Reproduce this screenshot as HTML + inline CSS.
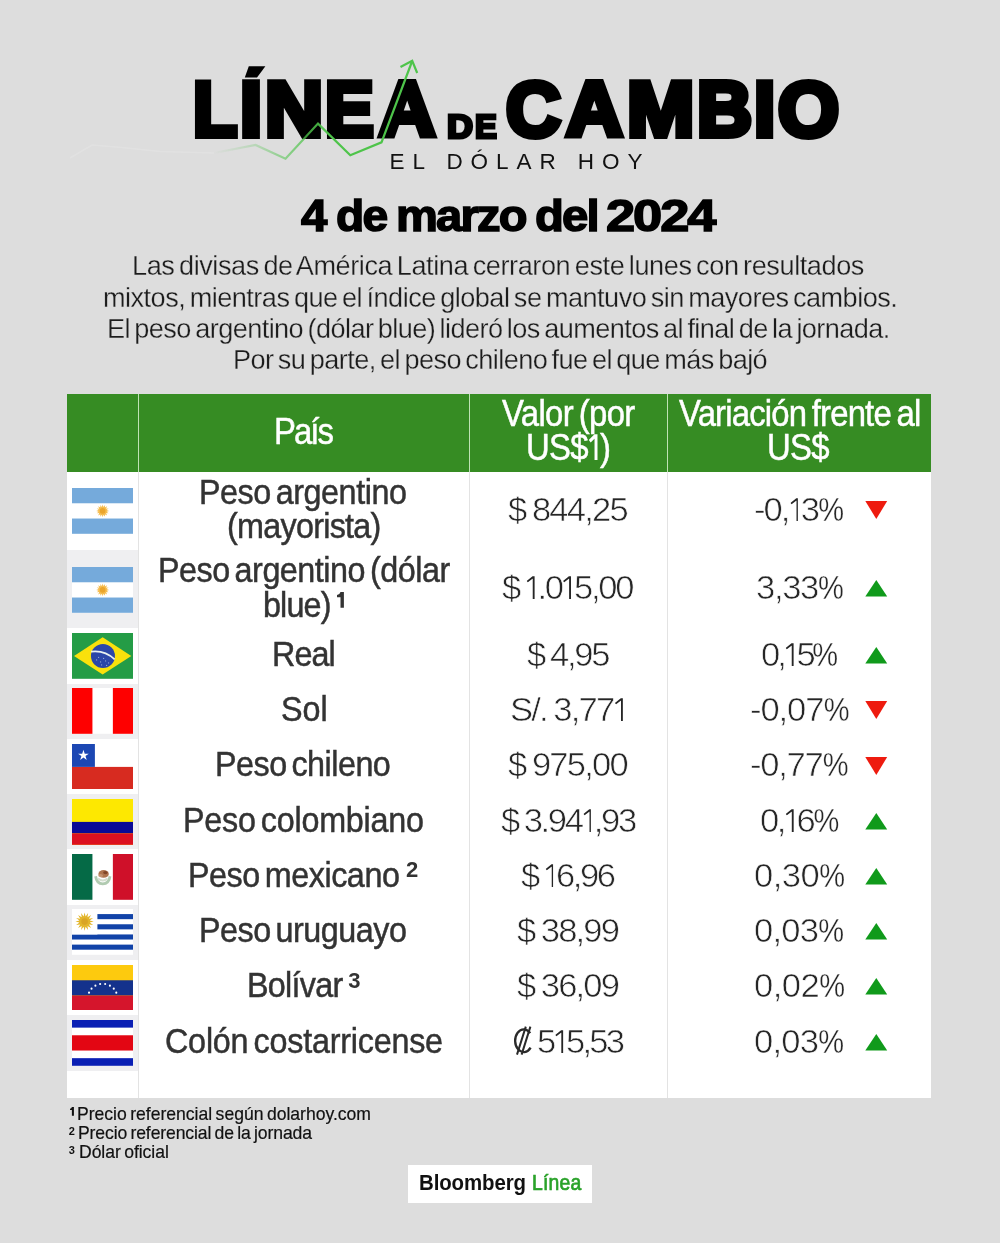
<!DOCTYPE html>
<html lang="es">
<head>
<meta charset="utf-8">
<title>Línea de cambio - El dólar hoy</title>
<style>
*{margin:0;padding:0;box-sizing:border-box;}
html,body{width:1000px;height:1243px;overflow:hidden;}
body{will-change:transform;background:#dddddd;font-family:"Liberation Sans",sans-serif;position:relative;color:#333;}
.abs{position:absolute;white-space:nowrap;}
/* ---------- title ---------- */
.t-big{font-weight:bold;font-size:77.5px;line-height:77.5px;color:#000;-webkit-text-stroke:6.2px #000;transform-origin:0 0;}
.t-de{font-weight:bold;font-size:33px;line-height:33px;color:#000;-webkit-text-stroke:3px #000;transform-origin:0 0;}
.t-sub{font-size:22.5px;line-height:24px;color:#111;letter-spacing:7.95px;}
.date{font-weight:bold;font-size:44px;line-height:44px;color:#000;letter-spacing:-1.72px;-webkit-text-stroke:1.5px #000;transform-origin:0 0;}
.para{font-size:27.5px;line-height:32px;color:#1c1c1c;white-space:nowrap;word-spacing:-2.6px;transform:scaleX(0.985);transform-origin:0 0;-webkit-text-stroke:0.3px #ddd;}
/* ---------- table ---------- */
.tbl{position:absolute;left:67px;top:394px;width:864px;height:704px;background:#fff;}
.hd{position:absolute;left:0;top:0;width:864px;height:78px;background:#368c23;}
.vl{position:absolute;top:0;width:1px;height:704px;background:#e3e3e3;}
.vlh{position:absolute;top:0;width:1px;height:78px;background:#bfe3b4;}
.fbg{position:absolute;left:0;width:71px;background:#efeff1;}
.nm{font-size:35.5px;line-height:36px;color:#333;transform-origin:0 0;-webkit-text-stroke:0.5px #333;}
.val{font-size:32.3px;line-height:32px;color:#262626;-webkit-text-stroke:0.6px #fff;transform-origin:0 0;}
.hc{font-size:36.5px;line-height:37px;color:#fff;transform-origin:0 0;-webkit-text-stroke:0.5px #fff;}
.sup{font-size:22px;line-height:22px;font-weight:bold;color:#333;}
.fn{font-size:18.5px;line-height:20px;color:#111;word-spacing:-1.5px;transform:scaleX(0.95);transform-origin:0 0;-webkit-text-stroke:0.2px #111;}
.fs{font-size:11px;line-height:12px;font-weight:bold;color:#111;}
.logo{position:absolute;left:408px;top:1164.6px;width:183.6px;height:38.4px;background:#fff;}
.lg{font-size:21.5px;line-height:24px;font-weight:bold;transform-origin:0 0;}
</style>
</head>
<body>

<!-- TITLE -->
<div class="abs t-big" style="left:193.1px;top:71.3px;transform:scaleX(0.935);">L</div>
<div class="abs t-big" style="left:240.4px;top:71.3px;transform:scaleX(1.024);">I</div>
<div class="abs t-big" style="left:264.5px;top:71.3px;transform:scaleX(1.038);">N</div>
<div class="abs t-big" style="left:325.3px;top:71.3px;transform:scaleX(0.942);">E</div>
<div class="abs t-big" style="left:379.0px;top:71.3px;transform:scaleX(1.007);">A</div>
<div class="abs t-big" style="left:506.0px;top:71.3px;transform:scaleX(0.979);">C</div>
<div class="abs t-big" style="left:566.0px;top:71.3px;transform:scaleX(1.012);">A</div>
<div class="abs t-big" style="left:627.3px;top:71.3px;transform:scaleX(1.043);">M</div>
<div class="abs t-big" style="left:697.3px;top:71.3px;transform:scaleX(0.983);">B</div>
<div class="abs t-big" style="left:754.4px;top:71.3px;transform:scaleX(0.988);">I</div>
<div class="abs t-big" style="left:777.7px;top:71.3px;transform:scaleX(1.013);">O</div>
<svg class="abs" style="left:240px;top:60px;" width="30" height="22" viewBox="240 60 30 22"><polygon points="244.8,77.4 248.8,66.2 265.4,66.2 257,77.4" fill="#000"/></svg>
<div class="abs t-de" style="left:447.3px;top:110px;transform:scaleX(1.091);">D</div>
<div class="abs t-de" style="left:475.0px;top:110px;transform:scaleX(0.990);">E</div>
<svg class="abs" style="left:0;top:0;" width="1000" height="200" viewBox="0 0 1000 200">
  <defs>
    <linearGradient id="lg" gradientUnits="userSpaceOnUse" x1="214" y1="0" x2="330" y2="0">
      <stop offset="0" stop-color="#4ec44a" stop-opacity="0"/>
      <stop offset="0.35" stop-color="#4ec44a" stop-opacity="0.25"/>
      <stop offset="1" stop-color="#4ec44a" stop-opacity="1"/>
    </linearGradient>
  </defs>
  <polyline points="70,158 92,145 122,147.5 160,151.5 214,153" fill="none" stroke="#fff" stroke-opacity="0.14" stroke-width="1.5"/>
  <polyline points="214,153 255.5,145 285.5,158.7 318,123.6 350.3,155.3 381.5,142.3 412,61.5" fill="none" stroke="url(#lg)" stroke-width="2.2" stroke-linejoin="miter"/>
  <polyline points="400.5,67 412.2,60.8 417.2,73" fill="none" stroke="#4ec44a" stroke-width="2.2" stroke-linejoin="miter"/>
</svg>
<div class="abs t-sub" style="left:389.6px;top:150px;">EL DÓLAR HOY</div>

<div class="abs date" style="left:300.9px;top:194.1px;transform:scaleX(1.076);">4</div>
<div class="abs date" style="left:335.8px;top:194.1px;transform:scaleX(1.050);">de</div>
<div class="abs date" style="left:395.6px;top:194.1px;transform:scaleX(1.071);">marzo</div>
<div class="abs date" style="left:535.2px;top:194.1px;transform:scaleX(1.074);">del</div>
<div class="abs date" style="left:606.1px;top:194.1px;transform:scaleX(1.191);">2024</div>

<div class="abs para" style="left:131.9px;top:250.2px;letter-spacing:-0.420px;">Las divisas de América Latina cerraron este lunes con resultados</div>
<div class="abs para" style="left:102.9px;top:281.6px;letter-spacing:-0.519px;">mixtos, mientras que el índice global se mantuvo sin mayores cambios.</div>
<div class="abs para" style="left:106.6px;top:312.8px;letter-spacing:-0.573px;">El peso argentino (dólar blue) lideró los aumentos al final de la jornada.</div>
<div class="abs para" style="left:233.0px;top:344.1px;letter-spacing:-0.571px;">Por su parte, el peso chileno fue el que más bajó</div>

<!-- TABLE -->
<div class="tbl">
  <div class="fbg" style="top:156px;height:78.2px;"></div>
  <div class="fbg" style="top:289.6px;height:55.3px;"></div>
  <div class="fbg" style="top:400.2px;height:55.3px;"></div>
  <div class="fbg" style="top:510.8px;height:55.3px;"></div>
  <div class="fbg" style="top:621.4px;height:55.3px;"></div>
  <div class="vl" style="left:71px;"></div>
  <div class="vl" style="left:402px;"></div>
  <div class="vl" style="left:600px;"></div>
  <div class="hd"></div>
  <div class="vlh" style="left:71px;"></div>
  <div class="vlh" style="left:402px;"></div>
  <div class="vlh" style="left:600px;"></div>
</div>
<svg class="abs" style="left:72.1px;top:487.9px;" width="61.3" height="45.8" viewBox="0 0 61.3 45.8"><rect width="61.3" height="45.8" fill="#fff"/><rect width="61.3" height="15.27" fill="#75aadb"/><rect y="30.53" width="61.3" height="15.27" fill="#75aadb"/><polygon points="37.05,22.90 34.57,23.68 36.56,25.35 33.98,25.12 35.18,27.43 32.87,26.23 33.10,28.81 31.43,26.82 30.65,29.30 29.87,26.82 28.20,28.81 28.43,26.23 26.12,27.43 27.32,25.12 24.74,25.35 26.73,23.68 24.25,22.90 26.73,22.12 24.74,20.45 27.32,20.68 26.12,18.37 28.43,19.57 28.20,16.99 29.87,18.98 30.65,16.50 31.43,18.98 33.10,16.99 32.87,19.57 35.18,18.37 33.98,20.68 36.56,20.45 34.57,22.12" fill="#f6bd4f"/><circle cx="30.65" cy="22.9" r="4.0" fill="#f6bd4f"/><circle cx="30.65" cy="22.9" r="2.8" fill="#eaa52c"/></svg>
<svg class="abs" style="left:72.1px;top:567.0px;" width="61.3" height="45.8" viewBox="0 0 61.3 45.8"><rect width="61.3" height="45.8" fill="#fff"/><rect width="61.3" height="15.27" fill="#75aadb"/><rect y="30.53" width="61.3" height="15.27" fill="#75aadb"/><polygon points="37.05,22.90 34.57,23.68 36.56,25.35 33.98,25.12 35.18,27.43 32.87,26.23 33.10,28.81 31.43,26.82 30.65,29.30 29.87,26.82 28.20,28.81 28.43,26.23 26.12,27.43 27.32,25.12 24.74,25.35 26.73,23.68 24.25,22.90 26.73,22.12 24.74,20.45 27.32,20.68 26.12,18.37 28.43,19.57 28.20,16.99 29.87,18.98 30.65,16.50 31.43,18.98 33.10,16.99 32.87,19.57 35.18,18.37 33.98,20.68 36.56,20.45 34.57,22.12" fill="#f6bd4f"/><circle cx="30.65" cy="22.9" r="4.0" fill="#f6bd4f"/><circle cx="30.65" cy="22.9" r="2.8" fill="#eaa52c"/></svg>
<svg class="abs" style="left:72.1px;top:632.9px;" width="61.3" height="45.8" viewBox="0 0 61.3 45.8"><rect width="61.3" height="45.8" fill="#249c46"/><polygon points="2,22.9 30.65,4.2 59.3,22.9 30.65,41.599999999999994" fill="#f9e10c"/><circle cx="30.95" cy="22.9" r="12" fill="#2b46a8"/><path d="M19.049999999999997,18.7 Q32.65,16.9 42.65,26.4" fill="none" stroke="#e8f0f0" stroke-width="1.8"/><circle cx="24.65" cy="26.9" r="0.55" fill="#9fb3e0"/><circle cx="28.65" cy="28.9" r="0.55" fill="#9fb3e0"/><circle cx="33.65" cy="27.9" r="0.55" fill="#9fb3e0"/><circle cx="26.65" cy="24.4" r="0.55" fill="#9fb3e0"/><circle cx="31.65" cy="25.4" r="0.55" fill="#9fb3e0"/><circle cx="36.65" cy="29.9" r="0.55" fill="#9fb3e0"/><circle cx="29.65" cy="31.9" r="0.55" fill="#9fb3e0"/><circle cx="34.65" cy="32.4" r="0.55" fill="#9fb3e0"/></svg>
<svg class="abs" style="left:72.1px;top:688.2px;" width="61.3" height="45.8" viewBox="0 0 61.3 45.8"><rect width="61.3" height="45.8" fill="#fff"/><rect width="20.43" height="45.8" fill="#fe0000"/><rect x="40.87" width="20.43" height="45.8" fill="#fe0000"/></svg>
<svg class="abs" style="left:72.1px;top:743.5px;" width="61.3" height="45.8" viewBox="0 0 61.3 45.8"><rect width="61.3" height="45.8" fill="#fff"/><rect y="22.9" width="61.3" height="22.9" fill="#d72b20"/><rect width="22.9" height="22.9" fill="#1c47b3"/><polygon points="11.45,5.85 12.71,9.72 16.78,9.72 13.48,12.11 14.74,15.98 11.45,13.59 8.16,15.98 9.42,12.11 6.12,9.72 10.19,9.72" fill="#fff"/></svg>
<svg class="abs" style="left:72.1px;top:798.8px;" width="61.3" height="45.8" viewBox="0 0 61.3 45.8"><rect width="61.3" height="45.8" fill="#fde801"/><rect y="22.9" width="61.3" height="11.45" fill="#0a0a96"/><rect y="34.349999999999994" width="61.3" height="11.45" fill="#dc1020"/></svg>
<svg class="abs" style="left:72.1px;top:854.1px;" width="61.3" height="45.8" viewBox="0 0 61.3 45.8"><rect width="61.3" height="45.8" fill="#fff"/><rect width="20.43" height="45.8" fill="#056a46"/><rect x="40.87" width="20.43" height="45.8" fill="#cf1029"/><path d="M23.6,22.2 Q24.6,29.6 30.8,29.8 Q37,29.6 38,22.2" fill="none" stroke="#a8c5a8" stroke-width="2.8" opacity="0.9"/><path d="M26,24.5 Q30.8,28.4 35.6,24.5" fill="none" stroke="#c9d6c4" stroke-width="2" opacity="0.8"/><ellipse cx="31.6" cy="19.9" rx="5.2" ry="3.9" fill="#a7683f" opacity="0.92"/><ellipse cx="33.4" cy="18.6" rx="2.2" ry="1.6" fill="#7d4123" opacity="0.9"/><ellipse cx="28.6" cy="21.6" rx="2.4" ry="1.6" fill="#c79a78" opacity="0.8"/></svg>
<svg class="abs" style="left:72.1px;top:909.4px;" width="61.3" height="45.8" viewBox="0 0 61.3 45.8"><rect width="61.3" height="45.8" fill="#fff"/><rect y="5.09" width="61.3" height="5.09" fill="#1143a8"/><rect y="15.27" width="61.3" height="5.09" fill="#1143a8"/><rect y="25.44" width="61.3" height="5.09" fill="#1143a8"/><rect y="35.62" width="61.3" height="5.09" fill="#1143a8"/><rect width="25.4" height="25.44" fill="#fff"/><polygon points="21.80,12.60 17.70,13.61 21.10,16.12 16.92,15.49 19.11,19.11 15.49,16.92 16.12,21.10 13.61,17.70 12.60,21.80 11.59,17.70 9.08,21.10 9.71,16.92 6.09,19.11 8.28,15.49 4.10,16.12 7.50,13.61 3.40,12.60 7.50,11.59 4.10,9.08 8.28,9.71 6.09,6.09 9.71,8.28 9.08,4.10 11.59,7.50 12.60,3.40 13.61,7.50 16.12,4.10 15.49,8.28 19.11,6.09 16.92,9.71 21.10,9.08 17.70,11.59" fill="#e3b62b"/><circle cx="12.6" cy="12.6" r="5.2" fill="#e3b62b"/><circle cx="12.6" cy="12.6" r="3.3" fill="#d9a524"/></svg>
<svg class="abs" style="left:72.1px;top:964.7px;" width="61.3" height="45.8" viewBox="0 0 61.3 45.8"><rect width="61.3" height="45.8" fill="#fdca0e"/><rect y="15.27" width="61.3" height="15.27" fill="#14328c"/><rect y="30.53" width="61.3" height="15.27" fill="#d5152c"/><circle cx="17.02" cy="27.64" r="1.05" fill="#fff"/><circle cx="19.54" cy="23.63" r="1.05" fill="#fff"/><circle cx="23.40" cy="20.65" r="1.05" fill="#fff"/><circle cx="28.13" cy="19.06" r="1.05" fill="#fff"/><circle cx="33.17" cy="19.06" r="1.05" fill="#fff"/><circle cx="37.90" cy="20.65" r="1.05" fill="#fff"/><circle cx="41.76" cy="23.63" r="1.05" fill="#fff"/><circle cx="44.28" cy="27.64" r="1.05" fill="#fff"/></svg>
<svg class="abs" style="left:72.1px;top:1020.0px;" width="61.3" height="45.8" viewBox="0 0 61.3 45.8"><rect width="61.3" height="45.8" fill="#fff"/><rect width="61.3" height="7.63" fill="#0a1fb4"/><rect y="15.27" width="61.3" height="15.27" fill="#e30613"/><rect y="38.17" width="61.3" height="7.63" fill="#0a1fb4"/></svg>
<div class="abs nm" style="left:199.3px;top:474.1px;letter-spacing:-0.49px;word-spacing:-4px;transform:scaleX(0.91);">Peso argentino</div>
<div class="abs nm" style="left:227.1px;top:508.3px;letter-spacing:-0.79px;word-spacing:-4px;transform:scaleX(0.91);">(mayorista)</div>
<div class="abs nm" style="left:157.5px;top:551.5px;letter-spacing:-0.52px;word-spacing:-4px;transform:scaleX(0.91);">Peso argentino (dólar</div>
<div class="abs nm" style="left:262.9px;top:586.7px;letter-spacing:-0.93px;word-spacing:-4px;transform:scaleX(0.91);">blue)</div>
<div class="abs nm" style="left:271.6px;top:635.6px;letter-spacing:-0.97px;word-spacing:-4px;transform:scaleX(0.91);">Real</div>
<div class="abs nm" style="left:280.6px;top:691.0px;letter-spacing:-0.03px;word-spacing:-4px;transform:scaleX(0.91);">Sol</div>
<div class="abs nm" style="left:215.3px;top:746.2px;letter-spacing:-0.55px;word-spacing:-4px;transform:scaleX(0.91);">Peso chileno</div>
<div class="abs nm" style="left:182.7px;top:801.5px;letter-spacing:-0.25px;word-spacing:-4px;transform:scaleX(0.91);">Peso colombiano</div>
<div class="abs nm" style="left:188.2px;top:856.8px;letter-spacing:-0.49px;word-spacing:-4px;transform:scaleX(0.91);">Peso mexicano</div>
<div class="abs nm" style="left:199.3px;top:912.0px;letter-spacing:-0.53px;word-spacing:-4px;transform:scaleX(0.91);">Peso uruguayo</div>
<div class="abs nm" style="left:247.3px;top:967.3px;letter-spacing:-0.79px;word-spacing:-4px;transform:scaleX(0.91);">Bolívar</div>
<div class="abs nm" style="left:164.8px;top:1022.6px;letter-spacing:-0.23px;word-spacing:-4px;transform:scaleX(0.91);">Colón costarricense</div>
<div class="abs val" style="left:508.1px;top:493.7px;letter-spacing:-1.68px;word-spacing:-1.2px;transform:scaleX(1.07);">$ 844,25</div>
<div class="abs val" style="left:502.2px;top:571.9px;letter-spacing:-2.12px;word-spacing:-1.2px;transform:scaleX(1.07);">$ <svg style="margin:0 2.4px 0 1.6px" width="7.6" height="23" viewBox="0 0 7.6 23"><path d="M0.6,5.6 L6.1,1 M6.6,0.2 L6.6,23" fill="none" stroke="#262626" stroke-width="1.75"/></svg>.0<svg style="margin:0 2.4px 0 1.6px" width="7.6" height="23" viewBox="0 0 7.6 23"><path d="M0.6,5.6 L6.1,1 M6.6,0.2 L6.6,23" fill="none" stroke="#262626" stroke-width="1.75"/></svg>5,00</div>
<div class="abs val" style="left:526.5px;top:638.7px;letter-spacing:-2.12px;word-spacing:-1.2px;transform:scaleX(1.07);">$ 4,95</div>
<div class="abs val" style="left:510.0px;top:694.1px;letter-spacing:-1.69px;word-spacing:-1.2px;transform:scaleX(1.07);">S/. 3,77<svg style="margin:0 2.4px 0 1.6px" width="7.6" height="23" viewBox="0 0 7.6 23"><path d="M0.6,5.6 L6.1,1 M6.6,0.2 L6.6,23" fill="none" stroke="#262626" stroke-width="1.75"/></svg></div>
<div class="abs val" style="left:508.1px;top:749.3px;letter-spacing:-1.68px;word-spacing:-1.2px;transform:scaleX(1.07);">$ 975,00</div>
<div class="abs val" style="left:500.6px;top:804.6px;letter-spacing:-2.23px;word-spacing:-1.2px;transform:scaleX(1.07);">$ 3.94<svg style="margin:0 2.4px 0 1.6px" width="7.6" height="23" viewBox="0 0 7.6 23"><path d="M0.6,5.6 L6.1,1 M6.6,0.2 L6.6,23" fill="none" stroke="#262626" stroke-width="1.75"/></svg>,93</div>
<div class="abs val" style="left:521.0px;top:859.9px;letter-spacing:-2.27px;word-spacing:-1.2px;transform:scaleX(1.07);">$ <svg style="margin:0 2.4px 0 1.6px" width="7.6" height="23" viewBox="0 0 7.6 23"><path d="M0.6,5.6 L6.1,1 M6.6,0.2 L6.6,23" fill="none" stroke="#262626" stroke-width="1.75"/></svg>6,96</div>
<div class="abs val" style="left:517.0px;top:915.1px;letter-spacing:-1.72px;word-spacing:-1.2px;transform:scaleX(1.07);">$ 38,99</div>
<div class="abs val" style="left:517.0px;top:970.4px;letter-spacing:-1.74px;word-spacing:-1.2px;transform:scaleX(1.07);">$ 36,09</div>
<div class="abs val" style="left:537.1px;top:1025.7px;letter-spacing:-2.52px;word-spacing:-1.2px;transform:scaleX(1.07);">5<svg style="margin:0 2.4px 0 1.6px" width="7.6" height="23" viewBox="0 0 7.6 23"><path d="M0.6,5.6 L6.1,1 M6.6,0.2 L6.6,23" fill="none" stroke="#262626" stroke-width="1.75"/></svg>5,53</div>
<div class="abs val" style="left:754.4px;top:493.7px;letter-spacing:-1.85px;word-spacing:-1.2px;transform:scaleX(1.07);">-0,<svg style="margin:0 2.4px 0 1.6px" width="7.6" height="23" viewBox="0 0 7.6 23"><path d="M0.6,5.6 L6.1,1 M6.6,0.2 L6.6,23" fill="none" stroke="#262626" stroke-width="1.75"/></svg>3<span style="display:inline-block;transform:scaleX(.84);transform-origin:0 50%;margin-right:-4.6px;-webkit-text-stroke:0.35px #fff">%</span></div>
<div class="abs val" style="left:755.5px;top:571.9px;letter-spacing:-1.25px;word-spacing:-1.2px;transform:scaleX(1.07);">3,33<span style="display:inline-block;transform:scaleX(.84);transform-origin:0 50%;margin-right:-4.6px;-webkit-text-stroke:0.35px #fff">%</span></div>
<div class="abs val" style="left:760.6px;top:638.7px;letter-spacing:-2.72px;word-spacing:-1.2px;transform:scaleX(1.07);">0,<svg style="margin:0 2.4px 0 1.6px" width="7.6" height="23" viewBox="0 0 7.6 23"><path d="M0.6,5.6 L6.1,1 M6.6,0.2 L6.6,23" fill="none" stroke="#262626" stroke-width="1.75"/></svg>5<span style="display:inline-block;transform:scaleX(.84);transform-origin:0 50%;margin-right:-4.6px;-webkit-text-stroke:0.35px #fff">%</span></div>
<div class="abs val" style="left:749.5px;top:694.1px;letter-spacing:-1.00px;word-spacing:-1.2px;transform:scaleX(1.07);">-0,07<span style="display:inline-block;transform:scaleX(.84);transform-origin:0 50%;margin-right:-4.6px;-webkit-text-stroke:0.35px #fff">%</span></div>
<div class="abs val" style="left:750.4px;top:749.3px;letter-spacing:-1.17px;word-spacing:-1.2px;transform:scaleX(1.07);">-0,77<span style="display:inline-block;transform:scaleX(.84);transform-origin:0 50%;margin-right:-4.6px;-webkit-text-stroke:0.35px #fff">%</span></div>
<div class="abs val" style="left:759.9px;top:804.6px;letter-spacing:-2.22px;word-spacing:-1.2px;transform:scaleX(1.07);">0,<svg style="margin:0 2.4px 0 1.6px" width="7.6" height="23" viewBox="0 0 7.6 23"><path d="M0.6,5.6 L6.1,1 M6.6,0.2 L6.6,23" fill="none" stroke="#262626" stroke-width="1.75"/></svg>6<span style="display:inline-block;transform:scaleX(.84);transform-origin:0 50%;margin-right:-4.6px;-webkit-text-stroke:0.35px #fff">%</span></div>
<div class="abs val" style="left:753.9px;top:859.9px;letter-spacing:-0.48px;word-spacing:-1.2px;transform:scaleX(1.07);">0,30<span style="display:inline-block;transform:scaleX(.84);transform-origin:0 50%;margin-right:-4.6px;-webkit-text-stroke:0.35px #fff">%</span></div>
<div class="abs val" style="left:754.4px;top:915.1px;letter-spacing:-0.69px;word-spacing:-1.2px;transform:scaleX(1.07);">0,03<span style="display:inline-block;transform:scaleX(.84);transform-origin:0 50%;margin-right:-4.6px;-webkit-text-stroke:0.35px #fff">%</span></div>
<div class="abs val" style="left:753.9px;top:970.4px;letter-spacing:-0.48px;word-spacing:-1.2px;transform:scaleX(1.07);">0,02<span style="display:inline-block;transform:scaleX(.84);transform-origin:0 50%;margin-right:-4.6px;-webkit-text-stroke:0.35px #fff">%</span></div>
<div class="abs val" style="left:754.4px;top:1025.7px;letter-spacing:-0.69px;word-spacing:-1.2px;transform:scaleX(1.07);">0,03<span style="display:inline-block;transform:scaleX(.84);transform-origin:0 50%;margin-right:-4.6px;-webkit-text-stroke:0.35px #fff">%</span></div>
<div class="abs hc" style="left:273.5px;top:413.0px;letter-spacing:-2.15px;word-spacing:-3px;transform:scaleX(0.9);">País</div>
<div class="abs hc" style="left:502.0px;top:395.3px;letter-spacing:-0.73px;word-spacing:-3px;transform:scaleX(0.9);">Valor (por</div>
<div class="abs hc" style="left:525.9px;top:429.4px;letter-spacing:-0.75px;word-spacing:-3px;transform:scaleX(0.9);">US$<svg style="margin:0 2.6px 0 1.4px" width="9.6" height="26.5" viewBox="0 0 9.6 26.5"><path d="M0.8,7.2 L7.2,1.6 M7.8,0.2 L7.8,26.5" fill="none" stroke="#fff" stroke-width="3.3"/></svg>)</div>
<div class="abs hc" style="left:679.1px;top:395.3px;letter-spacing:-0.91px;word-spacing:-3px;transform:scaleX(0.9);">Variación frente al</div>
<div class="abs hc" style="left:766.9px;top:429.2px;letter-spacing:-0.78px;word-spacing:-3px;transform:scaleX(0.9);">US$</div>
<svg class="abs" style="left:864px;top:499.9px;" width="25" height="20" viewBox="0 0 25 20"><polygon points="1.3,1 23.2,1 12.3,19.0" fill="#ee1b0f"/></svg>
<svg class="abs" style="left:864px;top:578.9px;" width="25" height="20" viewBox="0 0 25 20"><polygon points="1.3,17.4 12.3,1 23.2,17.4" fill="#109a1b"/></svg>
<svg class="abs" style="left:864px;top:645.7px;" width="25" height="20" viewBox="0 0 25 20"><polygon points="1.3,17.4 12.3,1 23.2,17.4" fill="#109a1b"/></svg>
<svg class="abs" style="left:864px;top:700.3px;" width="25" height="20" viewBox="0 0 25 20"><polygon points="1.3,1 23.2,1 12.3,19.0" fill="#ee1b0f"/></svg>
<svg class="abs" style="left:864px;top:755.5px;" width="25" height="20" viewBox="0 0 25 20"><polygon points="1.3,1 23.2,1 12.3,19.0" fill="#ee1b0f"/></svg>
<svg class="abs" style="left:864px;top:811.6px;" width="25" height="20" viewBox="0 0 25 20"><polygon points="1.3,17.4 12.3,1 23.2,17.4" fill="#109a1b"/></svg>
<svg class="abs" style="left:864px;top:866.9px;" width="25" height="20" viewBox="0 0 25 20"><polygon points="1.3,17.4 12.3,1 23.2,17.4" fill="#109a1b"/></svg>
<svg class="abs" style="left:864px;top:922.1px;" width="25" height="20" viewBox="0 0 25 20"><polygon points="1.3,17.4 12.3,1 23.2,17.4" fill="#109a1b"/></svg>
<svg class="abs" style="left:864px;top:977.4px;" width="25" height="20" viewBox="0 0 25 20"><polygon points="1.3,17.4 12.3,1 23.2,17.4" fill="#109a1b"/></svg>
<svg class="abs" style="left:864px;top:1032.7px;" width="25" height="20" viewBox="0 0 25 20"><polygon points="1.3,17.4 12.3,1 23.2,17.4" fill="#109a1b"/></svg>

<!-- superscripts -->
<svg class="abs" style="left:337px;top:592px;" width="7" height="16" viewBox="0 0 7 16"><path d="M3.5,0 H6.9 V15.7 H3.5 V5.3 H0 V3 Q2.8,2.7 3.5,0 Z" fill="#333"/></svg>
<div class="abs sup" style="left:405.9px;top:859px;">2</div>
<div class="abs sup" style="left:348.3px;top:969.5px;">3</div>
<!-- colon sign -->
<svg class="abs" style="left:505px;top:1020px;" width="40" height="40" viewBox="505 1020 40 40">
  <path d="M530.2,1033.2 A8.6,11.4 0 1,0 530.6,1047.6" fill="none" stroke="#2a2a2a" stroke-width="2.3"/>
  <path d="M525.8,1026.6 L517,1054.6 M530.4,1026.6 L521.6,1054.6" fill="none" stroke="#2a2a2a" stroke-width="2"/>
</svg>

<!-- FOOTNOTES -->
<div class="abs fn" style="left:76.6px;top:1104.0px;letter-spacing:-0.01px;">Precio referencial según dolarhoy.com</div>
<div class="abs fn" style="left:78.2px;top:1123.2px;letter-spacing:-0.12px;">Precio referencial de la jornada</div>
<div class="abs fn" style="left:78.8px;top:1142.0px;letter-spacing:-0.05px;">Dólar oficial</div>
<svg class="abs" style="left:69.6px;top:1107px;" width="4" height="9" viewBox="0 0 7 16"><path d="M3.3,0 H6.9 V15.7 H3.3 V5.3 H0 V3 Q2.6,2.7 3.3,0 Z" fill="#111"/></svg>
<div class="abs fs" style="left:68.8px;top:1125px;">2</div>
<div class="abs fs" style="left:68.8px;top:1144px;">3</div>

<!-- LOGO -->
<div class="logo"></div>
<div class="abs lg" style="left:419.1px;top:1171.0px;letter-spacing:-0.11px;transform:scaleX(0.95);color:#111;">Bloomberg</div>
<div class="abs lg" style="left:531.5px;top:1171.0px;letter-spacing:0.25px;font-weight:normal;-webkit-text-stroke:0.7px #2aa22a;color:#2aa22a;transform:scaleX(0.9);">Línea</div>

</body>
</html>
